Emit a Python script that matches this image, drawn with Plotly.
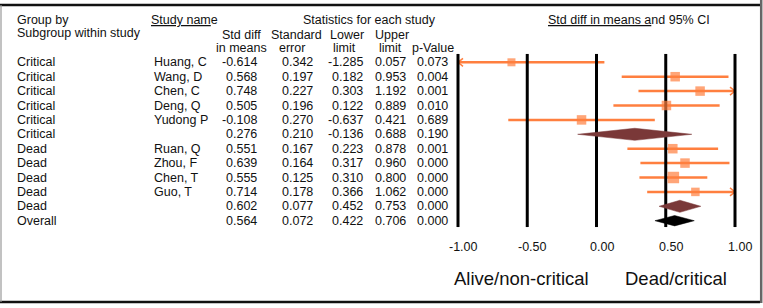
import plotly.graph_objects as go

# ---------------- data ----------------
groups = ["Critical", "Critical", "Critical", "Critical", "Critical", "Critical",
          "Dead", "Dead", "Dead", "Dead", "Dead", "Overall"]
studies = ["Huang, C", "Wang, D", "Chen, C", "Deng, Q", "Yudong P", "",
           "Ruan, Q", "Zhou, F", "Chen, T", "Guo, T", "", ""]
row_kind = ["study", "study", "study", "study", "study", "subgroup",
            "study", "study", "study", "study", "subgroup", "overall"]
std_diff = [-0.614, 0.568, 0.748, 0.505, -0.108, 0.276, 0.551, 0.639, 0.555, 0.714, 0.602, 0.564]
std_err = [0.342, 0.197, 0.227, 0.196, 0.270, 0.210, 0.167, 0.164, 0.125, 0.178, 0.077, 0.072]
lower = [-1.285, 0.182, 0.303, 0.122, -0.637, -0.136, 0.223, 0.317, 0.310, 0.366, 0.452, 0.422]
upper = [0.057, 0.953, 1.192, 0.889, 0.421, 0.688, 0.878, 0.960, 0.800, 1.062, 0.753, 0.706]
p_value = [0.073, 0.004, 0.001, 0.010, 0.689, 0.190, 0.001, 0.000, 0.000, 0.000, 0.000, 0.000]
tick_vals = [-1.0, -0.5, 0.0, 0.5, 1.0]
tick_labels = ["-1.00", "-0.50", "0.00", "0.50", "1.00"]
left_label = "Alive/non-critical"
right_label = "Dead/critical"

# ---------------- style ----------------
W, H = 763, 308
FONT = "Liberation Sans, Arial, Helvetica, sans-serif"
FS = 12.5
ORANGE = "#FF7F3F"
BROWN = "#7A3838"
BLACK = "#000000"
marker_sizes = [8, 9.5, 9.5, 9.5, 9.5, 0, 9.5, 9.5, 11.5, 8.5, 0, 0]
diamond_half = {"subgroup": 0.42, "overall": 0.36}
diamond_color = {"subgroup": BROWN, "overall": BLACK}

PX_X0, PX_PER_UNIT = 458.0, 138.5        # pixel of x=-1, pixels per unit
ROW1_PX, ROW_PX = 62.3, 14.4             # pixel of row 1 centre, row pitch
x_range = [-1 - PX_X0 / PX_PER_UNIT, -1 + (W - PX_X0) / PX_PER_UNIT]
y_range = [1 + (H - ROW1_PX) / ROW_PX, 1 - ROW1_PX / ROW_PX]
xmin, xmax = tick_vals[0], tick_vals[-1]
arrow_dx = 5 / PX_PER_UNIT
arrow_dy = 4 / ROW_PX

rows = list(range(1, len(groups) + 1))

fig = go.Figure()

# CI lines with arrows where clipped
for r, kind, lo, hi in zip(rows, row_kind, lower, upper):
    if kind != "study":
        continue
    x0, x1 = max(lo, xmin), min(hi, xmax)
    fig.add_trace(go.Scatter(x=[x0, x1], y=[r, r], mode="lines",
                             line=dict(color=ORANGE, width=2.5),
                             hoverinfo="skip", showlegend=False))
    if lo < xmin:
        fig.add_trace(go.Scatter(x=[xmin + arrow_dx, xmin, xmin + arrow_dx],
                                 y=[r - arrow_dy, r, r + arrow_dy], mode="lines",
                                 line=dict(color=ORANGE, width=1.5),
                                 hoverinfo="skip", showlegend=False))
    if hi > xmax:
        fig.add_trace(go.Scatter(x=[xmax - arrow_dx, xmax, xmax - arrow_dx],
                                 y=[r - arrow_dy, r, r + arrow_dy], mode="lines",
                                 line=dict(color=ORANGE, width=1.5),
                                 hoverinfo="skip", showlegend=False))

# vertical reference lines
for tv in tick_vals:
    fig.add_trace(go.Scatter(x=[tv, tv], y=[0.42, len(rows) + 0.44], mode="lines",
                             line=dict(color=BLACK, width=3),
                             hoverinfo="skip", showlegend=False))

# study squares
sx = [d for d, k in zip(std_diff, row_kind) if k == "study"]
sy = [r for r, k in zip(rows, row_kind) if k == "study"]
ss = [s for s, k in zip(marker_sizes, row_kind) if k == "study"]
fig.add_trace(go.Scatter(x=sx, y=sy, mode="markers",
                         marker=dict(symbol="square", size=ss, color=ORANGE,
                                     line=dict(width=0)),
                         hoverinfo="skip", showlegend=False))

# diamonds
for r, kind, d, lo, hi in zip(rows, row_kind, std_diff, lower, upper):
    if kind == "study":
        continue
    h = diamond_half[kind]
    fig.add_trace(go.Scatter(x=[lo, d, hi, d, lo], y=[r, r - h, r, r + h, r],
                             mode="lines", fill="toself",
                             fillcolor=diamond_color[kind],
                             line=dict(color=diamond_color[kind], width=0.5),
                             hoverinfo="skip", showlegend=False))

ann = []


def px(x):
    return x / W


def py(y):
    return 1 - y / H


def add_text(text, x, y, anchor="left", size=FS, yref="paper"):
    ann.append(dict(text=text, x=px(x), xref="paper",
                    y=(py(y) if yref == "paper" else y), yref=yref,
                    xanchor=anchor, yanchor="middle", showarrow=False,
                    font=dict(family=FONT, size=size, color="#111111"),
                    borderpad=0))


# headers
add_text("Group by", 16, 20)
add_text("Subgroup within study", 16, 33.5)
add_text("<u>Study nam</u>e", 150, 20)
add_text("Statistics for each study", 369, 20, "center")
add_text("Std diff", 241.5, 35, "center")
add_text("in means", 241.5, 48, "center")
add_text("Standard", 296, 35, "center")
add_text("error", 291.5, 48, "center")
add_text("Lower", 346.5, 35, "center")
add_text("limit", 344.5, 48, "center")
add_text("Upper", 391.5, 35, "center")
add_text("limit", 390, 48, "center")
add_text("p-Value", 432.5, 48, "center")
add_text("<u>Std diff in means a</u>nd 95% CI", 547, 20)

# table body
for r, g, s, d, se, lo, hi, p in zip(rows, groups, studies, std_diff, std_err,
                                      lower, upper, p_value):
    add_text(g, 16, r, yref="y")
    if s:
        add_text(s, 153, r, yref="y")
    add_text(f"{d:.3f}", 258, r, "right", yref="y")
    add_text(f"{se:.3f}", 314, r, "right", yref="y")
    add_text(f"{lo:.3f}", 364, r, "right", yref="y")
    add_text(f"{hi:.3f}", 407.5, r, "right", yref="y")
    add_text(f"{p:.3f}", 449.5, r, "right", yref="y")

# axis tick labels
for tv, tl in zip(tick_vals, tick_labels):
    ann.append(dict(text=tl, x=tv, xref="x", y=py(246.5), yref="paper",
                    xanchor="center", yanchor="middle", showarrow=False,
                    xshift=5, font=dict(family=FONT, size=FS, color="#111111")))

add_text(left_label, 521, 278, "center", size=18.5)
add_text(right_label, 676, 278, "center", size=18.5)

shapes = [
    dict(type="line", xref="paper", yref="paper", x0=0, x1=px(760),
         y0=py(5), y1=py(5), line=dict(color="#111111", width=2.5)),
    dict(type="line", xref="paper", yref="paper", x0=0, x1=px(760),
         y0=py(302), y1=py(302), line=dict(color="#111111", width=2.5)),
    dict(type="line", xref="paper", yref="paper", x0=px(1), x1=px(1),
         y0=py(5), y1=py(302), line=dict(color="#999999", width=1.2)),
    dict(type="line", xref="paper", yref="paper", x0=px(761.2), x1=px(761.2),
         y0=py(0), y1=py(303), line=dict(color="#666666", width=2.5)),
]

fig.update_layout(
    width=W, height=H,
    margin=dict(l=0, r=0, t=0, b=0),
    paper_bgcolor="white", plot_bgcolor="white",
    xaxis=dict(range=x_range, domain=[0, 1], visible=False, fixedrange=True),
    yaxis=dict(range=y_range, domain=[0, 1], visible=False, fixedrange=True),
    annotations=ann, shapes=shapes,
    showlegend=False,
)

fig.write_html("out.html", config={"displayModeBar": False},
               post_script="document.body.style.margin='0';document.body.style.overflow='hidden';")
